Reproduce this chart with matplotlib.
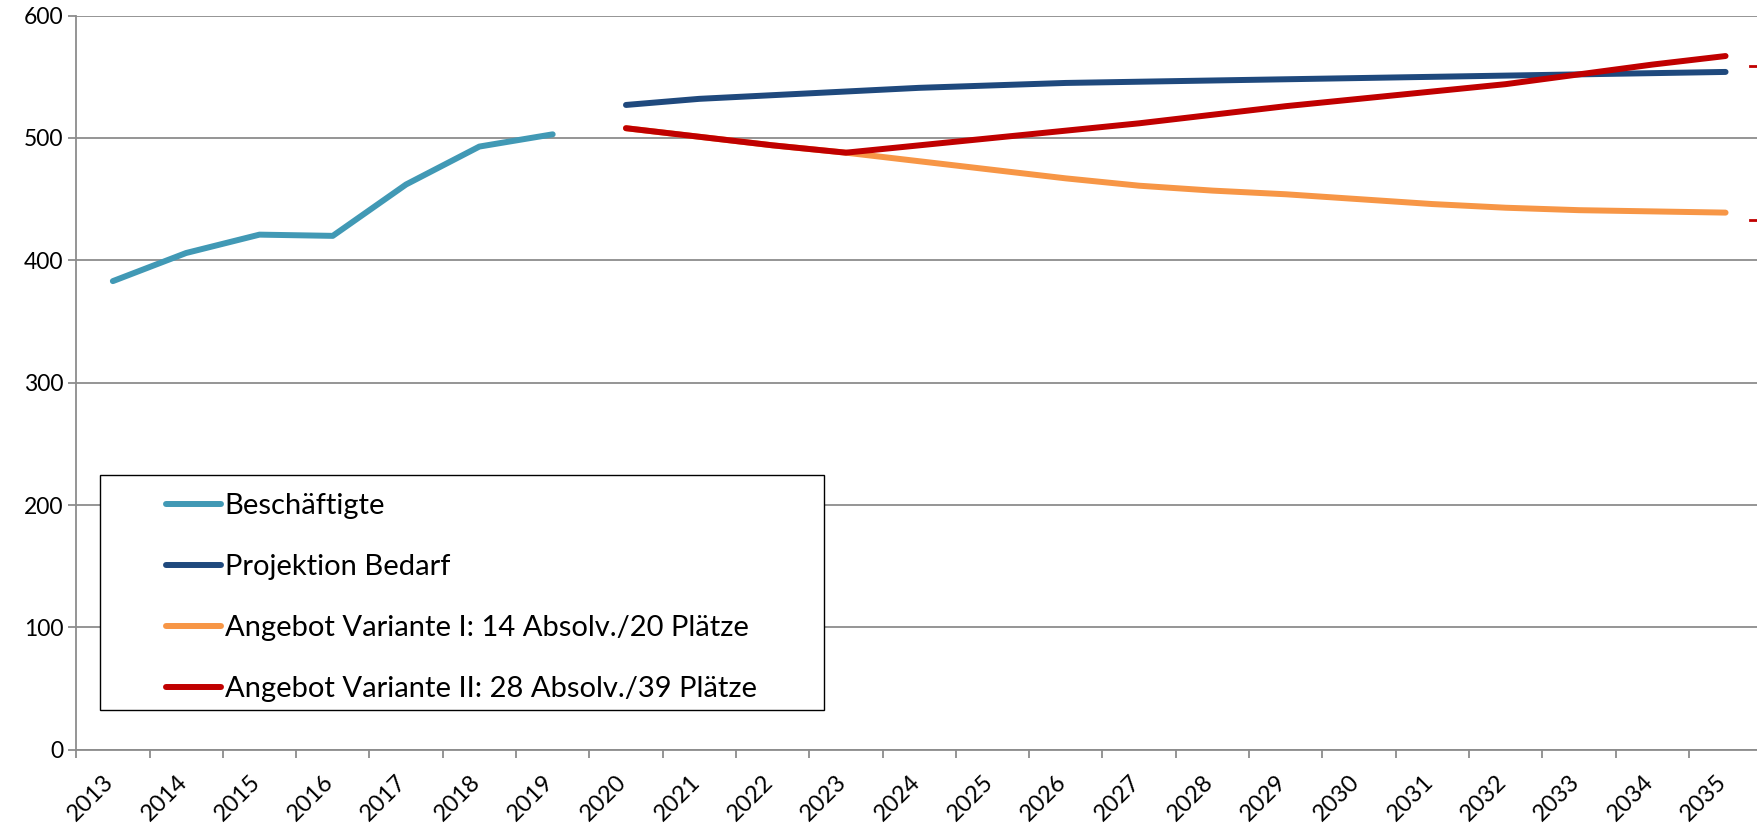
import numpy as np
import matplotlib.pyplot as plt
import matplotlib.transforms as mtransforms
from matplotlib.patches import Rectangle

plt.rcParams['font.family'] = ['Lato', 'DejaVu Sans']

years = list(range(2013, 2036))

# Beschaeftigte 2013-2019
beschaeftigte = [383, 406, 421, 420, 462, 493, 503]
# Projektion / Angebote 2020-2035
bedarf = [527, 532, 535, 538, 541, 543, 545, 546, 547, 548, 549, 550, 551, 552, 553, 554]
variante1 = [508, 501, 494, 488, 481, 474, 467, 461, 457, 454, 450, 446, 443, 441, 440, 439]
variante2 = [508, 501, 494, 488, 494, 500, 506, 512, 519, 526, 532, 538, 544, 552, 560, 567]

labels = ['Beschäftigte', 'Projektion Bedarf',
          'Angebot Variante I: 14 Absolv./20 Plätze',
          'Angebot Variante II: 28 Absolv./39 Plätze']
colors = ['#4199B5', '#1F497D', '#F79646', '#C00000']

# cut-off marks at right border (end values)
marks = [559, 433]

W, H = 1757, 824
fig = plt.figure(figsize=(W / 100, H / 100), dpi=100)
ax = fig.add_axes([76.2 / W, 0.0902, 1686 / W, 0.981 - 0.0902])

x_hist = np.arange(len(beschaeftigte))
x_proj = np.arange(len(beschaeftigte), len(years))

lw = 4.3
ax.plot(x_hist, beschaeftigte, color=colors[0], lw=lw, solid_capstyle='round', label=labels[0])
ax.plot(x_proj, bedarf, color=colors[1], lw=lw, solid_capstyle='round', label=labels[1])
ax.plot(x_proj, variante1, color=colors[2], lw=lw, solid_capstyle='round', label=labels[2])
ax.plot(x_proj, variante2, color=colors[3], lw=lw, solid_capstyle='round', label=labels[3])

for m in marks:
    ax.plot([len(years) - 0.66, len(years) - 0.45], [m, m], color=colors[3], lw=2, clip_on=False)

ax.set_xlim(-0.5, len(years) - 0.5)
ax.set_ylim(0, 600)

ax.set_yticks(np.arange(0, 601, 100))
ax.yaxis.grid(True, color='#8c8c8c', lw=1.3)
ax.set_axisbelow(True)

ax.set_xticks(np.arange(len(years)))
ax.set_xticklabels([str(y) for y in years], rotation=45, ha='right', va='baseline',
                   rotation_mode='anchor')
ax.set_xticks(np.arange(len(years) + 1) - 0.5, minor=True)
ax.tick_params(axis='x', which='major', length=0, pad=24, labelsize=17)
ax.tick_params(axis='x', which='minor', length=6, width=1.3, color='#8c8c8c', direction='out')
ax.tick_params(axis='y', length=6, width=1.3, color='#8c8c8c', labelsize=16.5, pad=3)
shift = mtransforms.ScaledTranslation(2 / 100, 0, fig.dpi_scale_trans)
for t in ax.get_xticklabels():
    t.set_transform(t.get_transform() + shift)

for s in ['top', 'right']:
    ax.spines[s].set_visible(False)
for s in ['left', 'bottom']:
    ax.spines[s].set_color('#8c8c8c')
    ax.spines[s].set_linewidth(1.3)

# legend frame drawn separately (wide side padding as in the original)
ax.add_patch(Rectangle((99.7 / W, 1 - 710.4 / H), (823.6 - 99.7) / W, (710.4 - 475) / H,
                       transform=fig.transFigure, facecolor='white', edgecolor='black',
                       lw=1.0, zorder=4.5, clip_on=False))
leg = ax.legend(loc='upper left', bbox_to_anchor=(165.8 / W, 1 - 493 / H), bbox_transform=fig.transFigure,
                frameon=False, fontsize=21, handlelength=1.88, handletextpad=0.14,
                labelspacing=1.2, borderpad=0, borderaxespad=0)
leg.set_zorder(6)

fig.savefig('out.png', dpi=100)
